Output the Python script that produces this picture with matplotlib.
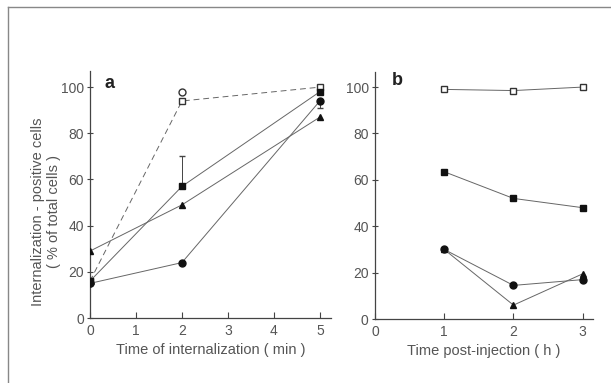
import matplotlib
matplotlib.use("Agg")
import matplotlib.pyplot as plt
from matplotlib.lines import Line2D

# ---- data, panel a ----
a_x = [0, 2, 5]
a_open_circle_x = [0, 2]
a_open_circle = [15, 98]
a_open_square = [16, 94, 100]
a_fill_square = [16, 57, 98]
a_fill_square_err_up = [0, 13, 0]
a_fill_triangle = [29, 49, 87]
a_fill_circle = [15, 24, 94]
a_fill_circle_err_dn = [0, 0, 3]
a_xticks = [0, 1, 2, 3, 4, 5]

# ---- data, panel b ----
b_x = [1, 2, 3]
b_open_square = [99, 98.5, 100]
b_fill_square = [63.5, 52, 48]
b_fill_circle = [30, 14.5, 17]
b_fill_triangle = [30, 6, 19.5]
b_xticks = [0, 1, 2, 3]

yticks = [0, 20, 40, 60, 80, 100]

plt.rcParams['font.family'] = ['Liberation Sans', 'DejaVu Sans']
TXT = '#555555'
LC = '#666666'
MK = '#111111'

fig = plt.figure(figsize=(6.11, 3.83), dpi=100)
fig.patch.set_facecolor('white')

# figure frame (left and top border)
fig.add_artist(Line2D([8/611, 8/611], [0, 1 - 7/383], transform=fig.transFigure, color='#888888', lw=1.0))
fig.add_artist(Line2D([8/611, 1], [1 - 7/383, 1 - 7/383], transform=fig.transFigure, color='#888888', lw=1.0))

axa = fig.add_axes([0.1473, 0.1697, 0.395, 0.645])
axb = fig.add_axes([0.6137, 0.167, 0.357, 0.645])

lw = 0.7
ms = 5.0

def style(ax):
    for s in ['top', 'right']:
        ax.spines[s].set_visible(False)
    for s in ['left', 'bottom']:
        ax.spines[s].set_color('#444444')
        ax.spines[s].set_linewidth(0.9)
    ax.tick_params(axis='x', direction='in', length=4, width=0.8, colors='#444444', labelcolor=TXT, labelsize=10, pad=4)
    ax.tick_params(axis='y', direction='inout', length=5, width=0.8, colors='#444444', labelcolor=TXT, labelsize=10, pad=2)
    ax.set_yticks(yticks)

# panel a
axa.plot(a_x, a_open_square, ls=(0, (6, 4)), color=LC, lw=lw, marker='s', mfc='white', mec='#333333', ms=ms, zorder=3)
axa.plot(a_open_circle_x, a_open_circle, ls='none', marker='o', mfc='white', mec='#333333', ms=ms, zorder=3)
axa.errorbar(a_x, a_fill_square, yerr=[[0, 0, 0], a_fill_square_err_up], color=LC, lw=lw,
             marker='s', mfc=MK, mec=MK, ms=ms, capsize=2, elinewidth=0.7, ecolor='#444444', zorder=4)
axa.plot(a_x, a_fill_triangle, color=LC, lw=lw, marker='^', mfc=MK, mec=MK, ms=ms, zorder=4)
axa.errorbar(a_x, a_fill_circle, yerr=[a_fill_circle_err_dn, [0, 0, 0]], color=LC, lw=lw,
             marker='o', mfc=MK, mec=MK, ms=ms, capsize=2, elinewidth=0.7, ecolor='#444444', zorder=4)
axa.set_xlim(0, 5.25)
axa.set_ylim(0, 107)
axa.set_xticks(a_xticks)
style(axa)
axa.set_xlabel('Time of internalization ( min )', color=TXT, fontsize=10.5, labelpad=4)
axa.set_ylabel('Internalization - positive cells\n( % of total cells )', color=TXT, fontsize=10.5, labelpad=10)
axa.yaxis.set_label_coords(-0.12, 0.43)
axa.text(0.06, 0.985, 'a', transform=axa.transAxes, fontsize=13, fontweight='bold', color='#222222', va='top')

# panel b
axb.plot(b_x, b_open_square, color=LC, lw=lw, marker='s', mfc='white', mec='#333333', ms=ms, zorder=3)
axb.plot(b_x, b_fill_square, color=LC, lw=lw, marker='s', mfc=MK, mec=MK, ms=ms, zorder=3)
axb.plot(b_x, b_fill_circle, color=LC, lw=lw, marker='o', mfc=MK, mec=MK, ms=ms, zorder=3)
axb.plot(b_x, b_fill_triangle, color=LC, lw=lw, marker='^', mfc=MK, mec=MK, ms=ms, zorder=3)
axb.set_xlim(0, 3.15)
axb.set_ylim(0, 106.5)
axb.set_xticks(b_xticks)
style(axb)
axb.set_xlabel('Time post-injection ( h )', color=TXT, fontsize=10.5, labelpad=4)
axb.text(0.075, 1.0, 'b', transform=axb.transAxes, fontsize=13, fontweight='bold', color='#222222', va='top')

fig.savefig('out.png', dpi=100, facecolor='white')
